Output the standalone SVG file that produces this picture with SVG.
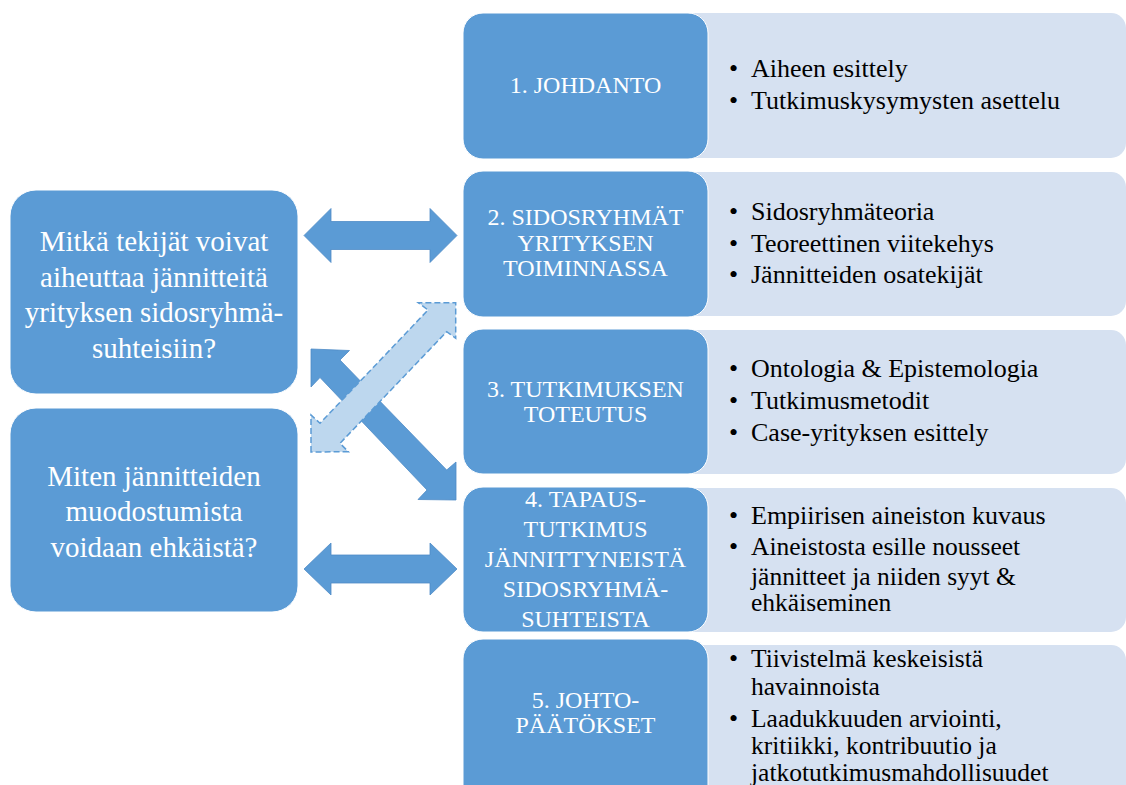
<svg xmlns="http://www.w3.org/2000/svg" width="1126" height="785" viewBox="0 0 1126 785">
<defs>
<style>
.dark{fill:#5B9BD5;stroke:#FFFFFF;stroke-width:1}
.light{fill:#D6E1F1}
.wt{font-family:"Liberation Serif","Times New Roman",serif;fill:#FFFFFF;text-anchor:middle}
.hd{font-size:24px}
.q{font-size:29px}
.bt{font-family:"Liberation Serif","Times New Roman",serif;font-size:26px;fill:#000000}
.bt2{font-family:"Liberation Serif","Times New Roman",serif;font-size:25.5px;fill:#000000}
.arr{fill:#5B9BD5;stroke:#4F8BC6;stroke-width:0.8}
.arrl{fill:#BDD7EE;stroke:#5B9BD5;stroke-width:1.5;stroke-dasharray:6 3}
</style>
</defs>
<rect width="1126" height="785" fill="#FFFFFF"/>

<g id="connectors">
<polygon class="arr" points="304,235.5 331,208.5 331,221.5 430,221.5 430,208.5 457,235.5 430,262.5 430,249.5 331,249.5 331,262.5"/>
<polygon class="arr" points="304,569 331,543 331,555 430,555 430,543 457,569 430,595 430,583 331,583 331,595"/>
<polygon class="arr" points="311,349 349.5,350.5 340,360 446.7,470 456,462 456,500 418,499.5 427,490 320,377.5 311,387"/>
<polygon class="arrl" points="311,452 311,415 320,423.3 428,310 418.3,302.7 455.7,302.7 455.7,338.3 446.7,331.7 340,443.3 348.3,451.7"/>
</g>

<g id="q1">
<rect class="dark" x="10" y="190" width="288" height="204" rx="26"/>
<text class="wt q" x="154" y="251">Mitkä tekijät voivat</text>
<text class="wt q" x="154" y="286.5">aiheuttaa jännitteitä</text>
<text class="wt q" x="154" y="322">yrityksen sidosryhmä-</text>
<text class="wt q" x="154" y="357.5">suhteisiin?</text>
</g>
<g id="q2">
<rect class="dark" x="10" y="408" width="288" height="204" rx="26"/>
<text class="wt q" x="154" y="486">Miten jännitteiden</text>
<text class="wt q" x="154" y="521">muodostumista</text>
<text class="wt q" x="154" y="557">voidaan ehkäistä?</text>
</g>

<g id="s1">
<path class="light" d="M690,13 H1111 A15,15 0 0 1 1126,28 V143 A15,15 0 0 1 1111,158 H690 Z"/>
<rect class="dark" x="463" y="13" width="245" height="146" rx="20"/>
<text class="wt hd" x="585.5" y="93">1. JOHDANTO</text>
<text class="bt" x="729" y="77">•</text><text class="bt" x="751" y="77">Aiheen esittely</text>
<text class="bt" x="729" y="109">•</text><text class="bt" x="751" y="109">Tutkimuskysymysten asettelu</text>
</g>

<g id="s2">
<path class="light" d="M690,172 H1111 A15,15 0 0 1 1126,187 V301 A15,15 0 0 1 1111,316 H690 Z"/>
<rect class="dark" x="463" y="171" width="245" height="146" rx="20"/>
<text class="wt hd" x="585.5" y="225">2. SIDOSRYHMÄT</text>
<text class="wt hd" x="585.5" y="251">YRITYKSEN</text>
<text class="wt hd" x="585.5" y="276">TOIMINNASSA</text>
<text class="bt" x="729" y="220">•</text><text class="bt" x="751" y="220">Sidosryhmäteoria</text>
<text class="bt" x="729" y="252">•</text><text class="bt" x="751" y="252">Teoreettinen viitekehys</text>
<text class="bt" x="729" y="283">•</text><text class="bt" x="751" y="283">Jännitteiden osatekijät</text>
</g>

<g id="s3">
<path class="light" d="M690,330 H1111 A15,15 0 0 1 1126,345 V459 A15,15 0 0 1 1111,474 H690 Z"/>
<rect class="dark" x="463" y="329" width="245" height="145" rx="20"/>
<text class="wt hd" x="585.5" y="397">3. TUTKIMUKSEN</text>
<text class="wt hd" x="585.5" y="422">TOTEUTUS</text>
<text class="bt" x="729" y="377">•</text><text class="bt" x="751" y="377">Ontologia &amp; Epistemologia</text>
<text class="bt" x="729" y="409">•</text><text class="bt" x="751" y="409">Tutkimusmetodit</text>
<text class="bt" x="729" y="441">•</text><text class="bt" x="751" y="441">Case-yrityksen esittely</text>
</g>

<g id="s4">
<path class="light" d="M690,488 H1111 A15,15 0 0 1 1126,503 V617 A15,15 0 0 1 1111,632 H690 Z"/>
<rect class="dark" x="463" y="487" width="245" height="145" rx="20"/>
<text class="wt hd" x="585.5" y="507">4. TAPAUS-</text>
<text class="wt hd" x="585.5" y="537">TUTKIMUS</text>
<text class="wt hd" x="585.5" y="567">JÄNNITTYNEISTÄ</text>
<text class="wt hd" x="585.5" y="597">SIDOSRYHMÄ-</text>
<text class="wt hd" x="585.5" y="627">SUHTEISTA</text>
<text class="bt" x="729" y="524">•</text><text class="bt" x="751" y="524">Empiirisen aineiston kuvaus</text>
<text class="bt" x="729" y="555">•</text><text class="bt2" x="751" y="555">Aineistosta esille nousseet</text>
<text class="bt2" x="751" y="584.5">jännitteet ja niiden syyt &amp;</text>
<text class="bt2" x="751" y="611">ehkäiseminen</text>
</g>

<g id="s5">
<path class="light" d="M690,645 H1111 A15,15 0 0 1 1126,660 V800 H690 Z"/>
<rect class="dark" x="463" y="639" width="245" height="170" rx="20"/>
<text class="wt hd" x="585.5" y="708">5. JOHTO-</text>
<text class="wt hd" x="585.5" y="733">PÄÄTÖKSET</text>
<text class="bt" x="729" y="667">•</text><text class="bt2" x="751" y="667">Tiivistelmä keskeisistä</text>
<text class="bt2" x="751" y="695">havainnoista</text>
<text class="bt" x="729" y="727">•</text><text class="bt2" x="751" y="727">Laadukkuuden arviointi,</text>
<text class="bt2" x="751" y="754">kritiikki, kontribuutio ja</text>
<text class="bt2" x="751" y="781">jatkotutkimusmahdollisuudet</text>
</g>
</svg>
